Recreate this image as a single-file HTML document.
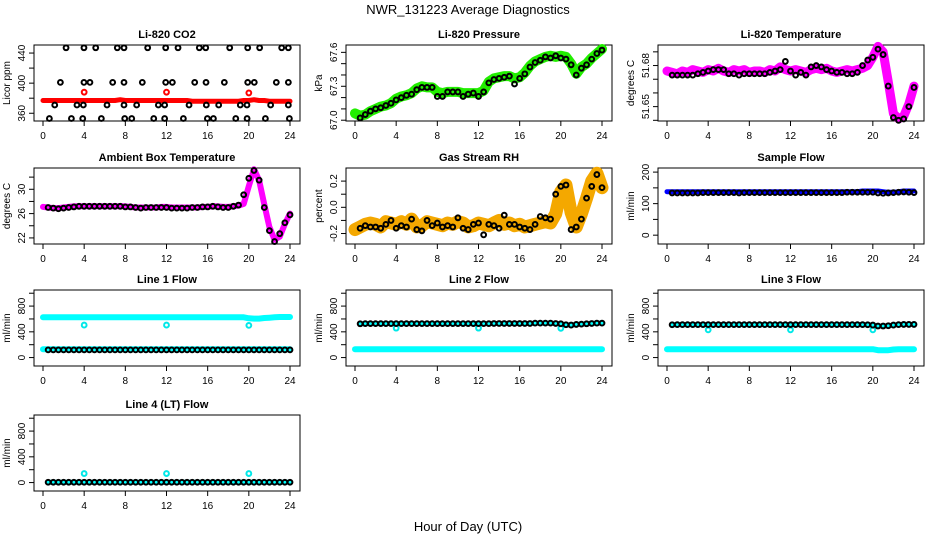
<!DOCTYPE html>
<html><head><meta charset="utf-8"><style>
html,body{margin:0;padding:0;background:#fff}
svg{display:block;font-family:"Liberation Sans",Arial,sans-serif}
</style></head><body>
<svg id="chart" width="936" height="540" viewBox="0 0 936 540" xmlns="http://www.w3.org/2000/svg">
<rect width="936" height="540" fill="#fff"/>
<text x="468" y="14" text-anchor="middle" font-size="13">NWR_131223  Average Diagnostics</text>
<text x="468" y="531" text-anchor="middle" font-size="13">Hour of Day (UTC)</text>
</svg>
<script>
// hour grids
const bandHours = [0,0.5,1,1.5,2,2.5,3,3.5,4,4.5,5,5.5,6,6.5,7,7.5,8,8.5,9,9.5,10,10.5,11,11.5,12,12.5,13,13.5,14,14.5,15,15.5,16,16.5,17,17.5,18,18.5,19,19.5,20,20.5,21,21.5,22,22.5,23,23.5,24];
const ptHours = [0.5,1,1.5,2,2.5,3,3.5,4,4.5,5,5.5,6,6.5,7,7.5,8,8.5,9,9.5,10,10.5,11,11.5,12,12.5,13,13.5,14,14.5,15,15.5,16,16.5,17,17.5,18,18.5,19,19.5,20,20.5,21,21.5,22,22.5,23,23.5,24];
const xTicks = [0,4,8,12,16,20,24];

// CO2
const co2Band = [377,377,377,377,377,377,377,377,377,377,377,377,377,377,377,378,377,377,377,377,377,377,377,377,377,377,377,377,377,376,376,376,376,376,376,376,376,376,376,377,377,378,377,377,376,376,376,376,376];
const co2RedHours = [4,12,20];
const co2RedVals = [388,388,387];
const co2BlackHours = [2.24,3.98,5.12,7.22,7.87,10.17,11.92,13.12,15.19,15.81,18.14,19.89,21.05,23.19,23.84,
 1.69,3.98,4.56,6.77,7.87,9.65,11.92,12.57,14.74,15.84,17.62,19.89,20.53,22.67,23.84,
 1.14,3.30,3.92,6.22,7.87,9.10,11.21,11.82,14.19,15.87,17.07,19.17,19.82,22.12,23.84,
 0.62,2.76,3.86,5.67,7.94,8.62,10.76,11.82,13.64,15.97,16.56,18.73,19.83,21.61,23.94];
const co2BlackVals = [447,447,447,447,447,447,447,447,447,447,447,447,447,447,447,
 401,401,401,401,401,401,401,401,401,401,401,401,401,401,401,
 371,371,371,371,371,371,371,371,371,371,371,371,371,371,371,
 353,353,353,353,353,353,353,353,353,353,353,353,353,353,353];

// Pressure
const presBand = [67.06,67.04,67.05,67.08,67.10,67.12,67.13,67.15,67.19,67.21,67.22,67.24,67.28,67.30,67.29,67.29,67.25,67.24,67.25,67.25,67.25,67.24,67.24,67.24,67.24,67.26,67.34,67.37,67.38,67.39,67.39,67.37,67.38,67.42,67.48,67.52,67.54,67.56,67.57,67.56,67.57,67.56,67.50,67.41,67.47,67.50,67.55,67.59,67.63];
const presPts = [67.02,67.05,67.08,67.10,67.11,67.13,67.15,67.18,67.20,67.22,67.23,67.27,67.29,67.29,67.29,67.21,67.21,67.25,67.25,67.25,67.21,67.23,67.24,67.21,67.25,67.33,67.36,67.37,67.38,67.39,67.32,67.37,67.41,67.47,67.51,67.53,67.56,67.55,67.57,67.55,67.54,67.49,67.40,67.46,67.49,67.54,67.59,67.62];

// Li-820 temperature
const ltBand = [51.676,51.675,51.674,51.676,51.675,51.677,51.676,51.675,51.677,51.676,51.678,51.676,51.675,51.677,51.676,51.677,51.675,51.676,51.676,51.675,51.677,51.676,51.679,51.677,51.676,51.677,51.676,51.675,51.677,51.678,51.677,51.678,51.676,51.675,51.676,51.677,51.676,51.677,51.678,51.680,51.686,51.694,51.690,51.668,51.645,51.641,51.643,51.652,51.665];
const ltPts = [51.673,51.673,51.673,51.673,51.673,51.674,51.675,51.676,51.677,51.677,51.677,51.674,51.674,51.673,51.674,51.674,51.674,51.674,51.674,51.675,51.676,51.677,51.683,51.676,51.673,51.675,51.673,51.679,51.680,51.679,51.677,51.676,51.675,51.675,51.674,51.674,51.675,51.680,51.684,51.686,51.692,51.688,51.665,51.642,51.640,51.641,51.650,51.664];

// Ambient box temperature
const ambBand = [27.1,27.0,26.9,26.9,27.0,27.1,27.2,27.2,27.2,27.2,27.2,27.2,27.2,27.2,27.2,27.2,27.2,27.1,27.0,27.0,27.0,27.0,27.0,27.1,27.1,27.0,27.0,27.0,27.0,27.0,27.0,27.1,27.1,27.2,27.2,27.1,27.1,27.2,27.3,27.6,30.5,33.3,31.5,27.5,23.8,21.7,22.2,24.3,26.0];
const ambPts = [27.0,26.9,26.8,26.9,27.0,27.1,27.2,27.2,27.2,27.2,27.2,27.2,27.2,27.2,27.2,27.1,27.1,27.0,26.9,27.0,27.0,27.0,27.0,27.0,26.9,26.9,26.9,26.9,27.0,27.0,27.1,27.1,27.2,27.1,27.0,27.0,27.2,27.4,29.1,31.8,33.1,31.5,27.0,23.2,21.4,22.7,24.5,25.8];

// Gas stream RH
const rhBand = [-0.17,-0.15,-0.13,-0.12,-0.13,-0.15,-0.11,-0.12,-0.13,-0.11,-0.13,-0.09,-0.15,-0.14,-0.11,-0.12,-0.13,-0.14,-0.12,-0.13,-0.11,-0.12,-0.15,-0.14,-0.12,-0.13,-0.14,-0.12,-0.10,-0.13,-0.12,-0.14,-0.13,-0.15,-0.14,-0.13,-0.12,-0.11,-0.12,-0.05,0.12,0.17,-0.04,-0.15,-0.05,0.07,0.20,0.26,0.15];
const rhPts = [-0.16,-0.14,-0.15,-0.15,-0.16,-0.13,-0.10,-0.16,-0.14,-0.15,-0.09,-0.17,-0.18,-0.10,-0.14,-0.12,-0.15,-0.14,-0.15,-0.08,-0.16,-0.17,-0.13,-0.12,-0.21,-0.13,-0.14,-0.16,-0.06,-0.13,-0.13,-0.15,-0.16,-0.17,-0.13,-0.07,-0.08,-0.09,0.10,0.16,0.17,-0.17,-0.15,-0.09,0.07,0.16,0.25,0.15];

// Sample flow
const sfBand = [138,138,138,138,138,138,138,138,138,138,138,138,138,138,138,138,138,138,138,138,138,138,138,138,138,138,138,138,138,138,138,138,138,138,138,138,138,138,140,140,140,140,138,136,136,138,140,140,140];
const sfPts = [134,134,134,134,134,134,135,135,135,135,135,135,135,134,135,135,135,135,135,135,135,135,135,135,135,135,135,135,135,135,135,135,135,135,136,136,136,136,136,136,134,133,134,135,136,137,136,135];

// Line flows
const dipHours = [4,12,20];
const l1Band = [625,625,625,625,625,625,625,625,625,625,625,625,625,625,625,625,625,625,625,625,625,625,625,625,625,625,625,625,625,625,625,625,625,625,625,625,625,625,625,625,610,605,605,615,620,625,630,630,630];
const l1Low = [130,130,130,130,130,130,130,130,130,130,130,130,130,130,130,130,130,130,130,130,130,130,130,130,130,130,130,130,130,130,130,130,130,130,130,130,130,130,130,130,130,130,130,130,130,130,130,130,130];
const l1Pts = [120,120,120,120,120,120,120,120,120,120,120,120,120,120,120,120,120,120,120,120,120,120,120,120,120,120,120,120,120,120,120,120,120,120,120,120,120,120,120,120,120,120,120,120,120,120,120,120];
const l1Dips = [505,505,500];
const l2Band = [130,130,130,130,130,130,130,130,130,130,130,130,130,130,130,130,130,130,130,130,130,130,130,130,130,130,130,130,130,130,130,130,130,130,130,130,130,130,130,130,130,130,130,130,130,130,130,130,130];
const l2Pts = [525,528,528,528,528,528,528,528,528,528,528,528,528,528,528,528,528,528,528,528,528,528,528,528,528,528,530,530,530,530,530,530,530,530,535,535,535,535,530,525,510,505,515,520,525,530,535,535];
const l2Dips = [457,457,455];
const l3Band = [130,130,130,130,130,130,130,130,130,130,130,130,130,130,130,130,130,130,130,130,130,130,130,130,130,130,130,130,130,130,130,130,130,130,130,130,130,130,130,130,130,115,115,115,125,130,130,130,130];
const l3Pts = [510,512,512,512,512,512,512,512,512,512,512,512,512,512,512,512,512,512,512,512,512,512,512,512,512,512,512,512,512,512,512,512,512,512,512,512,512,512,510,505,490,490,495,505,512,515,515,515];
const l3Dips = [430,430,430];
const l4Pts = [5,5,5,5,5,5,5,5,5,5,5,5,5,5,5,5,5,5,5,5,5,5,5,5,5,5,5,5,5,5,5,5,5,5,5,5,5,5,5,5,5,5,5,5,5,5,5,5];
const l4Dips = [140,140,140];

const NS = 'http://www.w3.org/2000/svg';
const svg = document.getElementById('chart');
const colL = [34,346,658], rowT = [45,168,290,415], W = 266, H = 76;

function mk(tag, attrs, parent){
  const e = document.createElementNS(NS, tag);
  for (const k in attrs) e.setAttribute(k, attrs[k]);
  (parent||svg).appendChild(e);
  return e;
}

function makePanel(c, r, ymin, ymax){
  const L = colL[c], T = rowT[r];
  const g = mk('g', {});
  return {
    g: g, L: L, T: T,
    x: h => L + 9 + h * (247/24),
    y: v => T + H - (v - ymin) / (ymax - ymin) * H
  };
}

function frame(p, title, ylab, yTicks, yLabels){
  const t = mk('text', {x: p.L + W/2, y: p.T - 7, 'text-anchor':'middle', 'font-size':11, 'font-weight':'bold'}, p.g);
  t.textContent = title;
  
  
  const b = mk('rect', {x: p.L, y: p.T, width: W, height: H, fill:'none', stroke:'#000', 'stroke-width':1}, p.g);
  
  
  xTicks.forEach(h => {
    const X = p.x(h);
    mk('line', {x1:X, x2:X, y1:p.T+H, y2:p.T+H+5, stroke:'#000'}, p.g);
    const tl = mk('text', {x:X, y:p.T+H+18, 'text-anchor':'middle', 'font-size':10}, p.g);
    tl.textContent = h;
    
    
  });
  yTicks.forEach(v => {
    const Y = p.y(v);
    mk('line', {x1:p.L-5, x2:p.L, y1:Y, y2:Y, stroke:'#000'}, p.g);
  });
  yLabels.forEach(v => {
    const Y = p.y(v);
    const yl = mk('text', {x:p.L-9, y:Y, 'text-anchor':'middle', 'font-size':10, transform:`rotate(-90 ${p.L-9} ${Y})`}, p.g);
    yl.textContent = v;
    
    
  });
  const cy = p.T + H/2;
  const yt = mk('text', {x:p.L-24, y:cy, 'text-anchor':'middle', 'font-size':10, transform:`rotate(-90 ${p.L-24} ${cy})`}, p.g);
  yt.textContent = ylab;
  
  
}

function band(p, hours, vals, color, width){
  const d = hours.map((h,i) => (i ? 'L' : 'M') + p.x(h).toFixed(1) + ' ' + p.y(vals[i]).toFixed(1)).join(' ');
  const e = mk('path', {d:d, fill:'none', stroke:color, 'stroke-width':width, 'stroke-linejoin':'round', 'stroke-linecap':'round'}, p.g);
  
  
}

function points(p, hours, vals, color, rad){
  hours.forEach((h,i) => {
    const e = mk('circle', {cx:p.x(h), cy:p.y(vals[i]), r:rad||2.4, fill:'none', stroke:color, 'stroke-width':2}, p.g);
    
    
  });
}

// Panel 1: CO2
let p = makePanel(0,0,349.7,450.7);
frame(p,'Li-820 CO2','Licor ppm',[360,380,400,420,440],[360,400,440]);
band(p,bandHours,co2Band,'#ff0000',5);
points(p,co2RedHours,co2RedVals,'#ff0000');
points(p,co2BlackHours,co2BlackVals,'#000');

// Panel 2: Pressure
p = makePanel(1,0,66.993,67.665);
frame(p,'Li-820 Pressure','kPa',[67.0,67.1,67.2,67.3,67.4,67.5,67.6],['67.0','67.3','67.6']);
band(p,bandHours,presBand,'#22ee00',10);
points(p,ptHours,presPts,'#000');

// Panel 3: Li-820 temperature
p = makePanel(2,0,51.6395,51.6950);
frame(p,'Li-820 Temperature','degrees C',[51.64,51.65,51.66,51.67,51.68,51.69],['51.65','51.68']);
band(p,bandHours,ltBand,'#ff00ff',9);
points(p,ptHours,ltPts,'#000');

// Panel 4: Ambient
p = makePanel(0,1,21.0,33.5);
frame(p,'Ambient Box Temperature','degrees C',[22,24,26,28,30,32],[22,26,30]);
band(p,bandHours,ambBand,'#ff00ff',6);
points(p,ptHours,ambPts,'#000');

// Panel 5: RH
p = makePanel(1,1,-0.28,0.30);
frame(p,'Gas Stream RH','percent',[-0.2,-0.1,0.0,0.1,0.2],['-0.2','0.0','0.2']);
band(p,bandHours,rhBand,'#f4a800',13);
points(p,ptHours,rhPts,'#000');

// Panel 6: Sample flow
p = makePanel(2,1,-28,213);
frame(p,'Sample Flow','ml/min',[0,50,100,150,200],[0,100,200]);
band(p,bandHours,sfBand,'#0000ff',5);
points(p,ptHours,sfPts,'#000');

const fT = [0,200,400,600,800,1000], fL = [0,400,800];
// Line 1
p = makePanel(0,2,-131,1050);
frame(p,'Line 1 Flow','ml/min',fT,fL);
band(p,bandHours,l1Band,'#00ffff',6);
band(p,bandHours,l1Low,'#00ffff',6);
points(p,dipHours,l1Dips,'#00e8e8');
points(p,ptHours,l1Pts,'#000');
// Line 2
p = makePanel(1,2,-131,1050);
frame(p,'Line 2 Flow','ml/min',fT,fL);
band(p,bandHours,l2Band,'#00ffff',6);
band(p,ptHours,l2Pts,'#00ffff',5);
points(p,dipHours,l2Dips,'#00e8e8');
points(p,ptHours,l2Pts,'#000');
// Line 3
p = makePanel(2,2,-131,1050);
frame(p,'Line 3 Flow','ml/min',fT,fL);
band(p,bandHours,l3Band,'#00ffff',6);
band(p,ptHours,l3Pts,'#00ffff',5);
points(p,dipHours,l3Dips,'#00e8e8');
points(p,ptHours,l3Pts,'#000');
// Line 4
p = makePanel(0,3,-131,1050);
frame(p,'Line 4 (LT) Flow','ml/min',fT,fL);
band(p,ptHours,l4Pts,'#00ffff',5);
points(p,dipHours,l4Dips,'#00e8e8');
points(p,ptHours,l4Pts,'#000');
</script>
</body></html>
